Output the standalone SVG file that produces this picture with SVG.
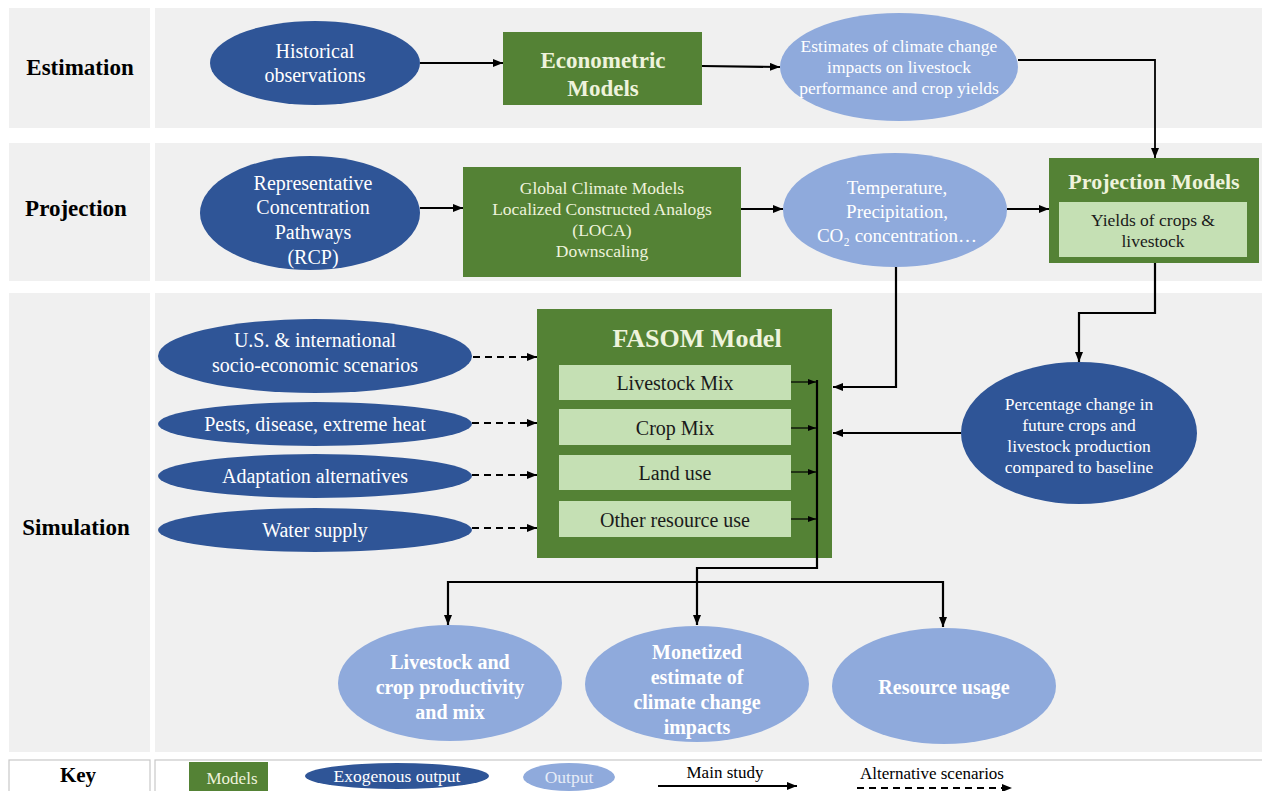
<svg xmlns="http://www.w3.org/2000/svg" width="1262" height="791" viewBox="0 0 1262 791" font-family="'Liberation Serif', 'DejaVu Serif', serif">
<defs>
<style>
text{font-family:"Liberation Serif","DejaVu Serif",serif;text-anchor:middle;dominant-baseline:central}
.panel{fill:#f0f0f0}
.key{fill:#ffffff;stroke:#c8c8c8;stroke-width:1.2}
.lbl{font-weight:bold;font-size:23px;fill:#000}
.dark{fill:#2f5597}
.light{fill:#8faadc}
.green{fill:#548235}
.inner{fill:#c5e0b4}
.wt{fill:#ffffff;font-size:20px}
.gt{fill:#eef3dc;font-size:17.5px}
.gb{fill:#eef3dc;font-weight:bold}
.it{fill:#1a1a1a;font-size:20px}
.bw{fill:#ffffff;font-weight:bold;font-size:20px}
.c{fill:none;stroke:#000;stroke-width:2.2}
.thin{fill:none;stroke:#000;stroke-width:1.2}
.dash{fill:none;stroke:#000;stroke-width:2.2;stroke-dasharray:7,5}
</style>
<marker id="ah" viewBox="0 0 10 8" refX="10" refY="4" markerWidth="10" markerHeight="8" markerUnits="userSpaceOnUse" orient="auto"><path d="M0,0 L10,4 L0,8 z" fill="#000"/></marker>
<marker id="ahs" viewBox="0 0 8 6" refX="8" refY="3" markerWidth="8" markerHeight="6" markerUnits="userSpaceOnUse" orient="auto"><path d="M0,0 L8,3 L0,6 z" fill="#000"/></marker>
</defs>
<rect width="1262" height="791" fill="#ffffff"/>
<g id="rows">
<rect class="panel" x="9" y="8" width="141" height="120"/>
<rect class="panel" x="155" y="8" width="1107" height="120"/>
<rect class="panel" x="9" y="143" width="141" height="138"/>
<rect class="panel" x="155" y="143" width="1107" height="138"/>
<rect class="panel" x="9" y="293" width="141" height="459"/>
<rect class="panel" x="155" y="293" width="1107" height="459"/>
<rect class="key" x="9" y="760" width="141" height="40"/>
<rect class="key" x="155" y="760" width="1115" height="40"/>
<text class="lbl" x="80" y="67">Estimation</text>
<text class="lbl" x="76" y="208">Projection</text>
<text class="lbl" x="76" y="527">Simulation</text>
<text class="lbl" x="78" y="775" style="font-size:21px">Key</text>
</g>
<g id="historical">
<ellipse class="dark" cx="315" cy="63" rx="105" ry="42"/>
<text class="wt" x="315" y="51">Historical</text>
<text class="wt" x="315" y="75">observations</text>
</g>
<g id="econometric">
<rect class="green" x="503" y="32" width="199" height="73"/>
<text class="gb" x="603" y="60" style="font-size:23px">Econometric</text>
<text class="gb" x="603" y="88" style="font-size:23px">Models</text>
</g>
<g id="estimates">
<ellipse class="light" cx="899" cy="67" rx="119" ry="54"/>
<text class="wt" x="899" y="46" style="font-size:17.5px">Estimates of climate change</text>
<text class="wt" x="899" y="67" style="font-size:17.5px">impacts on livestock</text>
<text class="wt" x="899" y="88" style="font-size:17.5px">performance and crop yields</text>
</g>
<g id="rcp">
<ellipse class="dark" cx="310" cy="213" rx="110" ry="57"/>
<text class="wt" x="313" y="183">Representative</text>
<text class="wt" x="313" y="207">Concentration</text>
<text class="wt" x="313" y="232">Pathways</text>
<text class="wt" x="313" y="257">(RCP)</text>
</g>
<g id="gcm">
<rect class="green" x="463" y="167" width="278" height="110"/>
<text class="gt" x="602" y="188">Global Climate Models</text>
<text class="gt" x="602" y="209">Localized Constructed Analogs</text>
<text class="gt" x="602" y="230">(LOCA)</text>
<text class="gt" x="602" y="251">Downscaling</text>
</g>
<g id="temperature">
<ellipse class="light" cx="895" cy="210" rx="112" ry="57"/>
<text class="wt" x="897" y="187" style="font-size:19px">Temperature,</text>
<text class="wt" x="897" y="211" style="font-size:19px">Precipitation,</text>
<text class="wt" x="897" y="235" style="font-size:19px">CO₂ concentration…</text>
</g>
<g id="projection-models">
<rect class="green" x="1049" y="158" width="210" height="105"/>
<text class="gb" x="1154" y="181" style="font-size:22px">Projection Models</text>
<rect class="inner" x="1059" y="202" width="188" height="55"/>
<text class="it" x="1153" y="220" style="font-size:17.5px">Yields of crops &amp;</text>
<text class="it" x="1153" y="241" style="font-size:17.5px">livestock</text>
</g>
<g id="us-intl">
<ellipse class="dark" cx="315" cy="356" rx="157" ry="37"/>
<text class="wt" x="315" y="340">U.S. &amp; international</text>
<text class="wt" x="315" y="365">socio-economic scenarios</text>
</g>
<g id="pests">
<ellipse class="dark" cx="315" cy="424" rx="157" ry="22"/>
<text class="wt" x="315" y="424">Pests, disease, extreme heat</text>
</g>
<g id="adaptation">
<ellipse class="dark" cx="315" cy="476" rx="157" ry="22"/>
<text class="wt" x="315" y="476">Adaptation alternatives</text>
</g>
<g id="water">
<ellipse class="dark" cx="315" cy="530" rx="157" ry="22"/>
<text class="wt" x="315" y="530">Water supply</text>
</g>
<g id="fasom">
<rect class="green" x="537" y="309" width="295" height="249"/>
<text class="gb" x="697" y="338" style="font-size:26px">FASOM Model</text>
<rect class="inner" x="559" y="365" width="232" height="35"/>
<text class="it" x="675" y="383">Livestock Mix</text>
<rect class="inner" x="559" y="409" width="232" height="36"/>
<text class="it" x="675" y="428">Crop Mix</text>
<rect class="inner" x="559" y="455" width="232" height="35"/>
<text class="it" x="675" y="473">Land use</text>
<rect class="inner" x="559" y="501" width="232" height="36"/>
<text class="it" x="675" y="520">Other resource use</text>
</g>
<g id="percentage">
<ellipse class="dark" cx="1079" cy="433" rx="118" ry="71"/>
<text class="wt" x="1079" y="404" style="font-size:17.5px">Percentage change in</text>
<text class="wt" x="1079" y="425" style="font-size:17.5px">future crops and</text>
<text class="wt" x="1079" y="446" style="font-size:17.5px">livestock production</text>
<text class="wt" x="1079" y="467" style="font-size:17.5px">compared to baseline</text>
</g>
<g id="livestock-out">
<ellipse class="light" cx="450" cy="683" rx="112" ry="58"/>
<text class="bw" x="450" y="662">Livestock and</text>
<text class="bw" x="450" y="687">crop productivity</text>
<text class="bw" x="450" y="712">and mix</text>
</g>
<g id="monetized">
<ellipse class="light" cx="697" cy="684" rx="112" ry="58"/>
<text class="bw" x="697" y="652">Monetized</text>
<text class="bw" x="697" y="677">estimate of</text>
<text class="bw" x="697" y="702">climate change</text>
<text class="bw" x="697" y="727">impacts</text>
</g>
<g id="resource">
<ellipse class="light" cx="944" cy="686" rx="112" ry="58"/>
<text class="bw" x="944" y="687">Resource usage</text>
</g>
<g id="connectors">
<path class="c" d="M420,63 H503" marker-end="url(#ah)"/>
<path class="c" d="M702,66 L780,67" marker-end="url(#ah)"/>
<path class="c" d="M1018,60 H1155 V158" marker-end="url(#ah)" style="stroke-width:1.8"/>
<path class="c" d="M420,208 H463" marker-end="url(#ah)"/>
<path class="c" d="M741,209 H783" marker-end="url(#ah)"/>
<path class="c" d="M1007,209 H1049" marker-end="url(#ah)"/>
<path class="c" d="M896,267 V387 H833" marker-end="url(#ah)"/>
<path class="c" d="M1155,263 V313 H1079 V362" marker-end="url(#ah)"/>
<path class="c" d="M961,433 H833" marker-end="url(#ah)"/>
<path class="dash" d="M473,357 H537" marker-end="url(#ah)"/>
<path class="dash" d="M472,423 H537" marker-end="url(#ah)"/>
<path class="dash" d="M472,475 H537" marker-end="url(#ah)"/>
<path class="dash" d="M472,528 H537" marker-end="url(#ah)"/>
<path class="thin" d="M791,382 H816" marker-end="url(#ahs)"/>
<path class="thin" d="M791,428 H816" marker-end="url(#ahs)"/>
<path class="thin" d="M791,472 H816" marker-end="url(#ahs)"/>
<path class="thin" d="M791,519 H816" marker-end="url(#ahs)"/>
<path class="c" d="M817,380 V568 H697 V625" marker-end="url(#ah)"/>
<path class="c" d="M697,582 H448 V625" marker-end="url(#ah)"/>
<path class="c" d="M697,582 H943 V627" marker-end="url(#ah)"/>
</g>
<g id="legend">
<rect class="green" x="189" y="762" width="79" height="32"/>
<text class="gt" x="232" y="778" style="font-size:17px">Models</text>
<ellipse class="dark" cx="397" cy="776" rx="92" ry="13"/>
<text class="wt" x="397" y="776" style="font-size:17.5px">Exogenous output</text>
<ellipse class="light" cx="569" cy="777" rx="46" ry="14"/>
<text class="wt" x="569" y="777" style="font-size:17.5px;fill:#e6ecf7">Output</text>
<text x="725" y="772" style="font-size:17px;fill:#000">Main study</text>
<path class="c" d="M658,786 H797" marker-end="url(#ah)"/>
<text x="932" y="773" style="font-size:17px;fill:#000">Alternative scenarios</text>
<path class="dash" d="M857,788 H1012" marker-end="url(#ah)"/>
</g>
</svg>
